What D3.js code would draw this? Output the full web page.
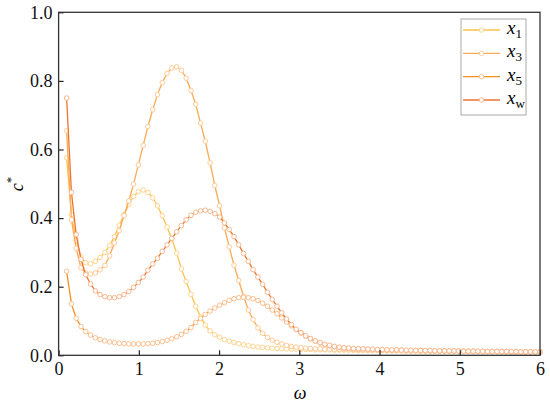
<!DOCTYPE html>
<html><head><meta charset="utf-8">
<script src="https://cdn.jsdelivr.net/npm/d3@7"></script>
<style>body{margin:0;background:#fff}svg{display:block}</style>
</head><body>
<script>
const omega = [0.100,0.160,0.219,0.279,0.338,0.398,0.458,0.517,0.577,0.636,0.696,0.756,0.815,0.875,0.934,0.994,1.054,1.113,1.173,1.232,1.292,1.352,1.411,1.471,1.530,1.590,1.650,1.709,1.769,1.828,1.888,1.947,2.007,2.067,2.126,2.186,2.245,2.305,2.365,2.424,2.484,2.543,2.603,2.663,2.722,2.782,2.841,2.901,2.961,3.020,3.080,3.139,3.199,3.259,3.318,3.378,3.437,3.497,3.557,3.616,3.676,3.735,3.795,3.855,3.914,3.974,4.034,4.093,4.153,4.212,4.272,4.332,4.391,4.451,4.510,4.570,4.630,4.689,4.749,4.808,4.868,4.928,4.987,5.047,5.106,5.166,5.226,5.285,5.345,5.404,5.464,5.524,5.583,5.643,5.702,5.762,5.822,5.881,5.941,6.000];

const x1 = [0.576,0.410,0.335,0.287,0.270,0.267,0.274,0.285,0.300,0.320,0.346,0.379,0.410,0.440,0.463,0.477,0.482,0.475,0.459,0.436,0.407,0.374,0.340,0.298,0.252,0.215,0.178,0.143,0.112,0.088,0.071,0.060,0.053,0.046,0.041,0.037,0.034,0.031,0.028,0.026,0.024,0.023,0.022,0.021,0.020,0.019,0.019,0.018,0.018,0.017,0.017,0.017,0.016,0.016,0.016,0.016,0.015,0.015,0.015,0.015,0.015,0.014,0.014,0.014,0.014,0.014,0.014,0.013,0.013,0.013,0.013,0.013,0.013,0.013,0.012,0.012,0.012,0.012,0.012,0.012,0.012,0.012,0.011,0.011,0.011,0.011,0.011,0.011,0.011,0.011,0.011,0.010,0.010,0.010,0.010,0.010,0.010,0.010,0.010,0.010];

const x3 = [0.655,0.395,0.312,0.255,0.240,0.237,0.240,0.249,0.262,0.290,0.328,0.364,0.407,0.450,0.499,0.555,0.612,0.667,0.716,0.760,0.795,0.822,0.838,0.841,0.831,0.808,0.772,0.732,0.677,0.624,0.561,0.495,0.436,0.372,0.316,0.263,0.218,0.172,0.132,0.104,0.080,0.064,0.052,0.044,0.038,0.033,0.029,0.026,0.024,0.022,0.021,0.020,0.019,0.019,0.018,0.018,0.017,0.017,0.017,0.016,0.016,0.016,0.015,0.015,0.015,0.015,0.014,0.014,0.014,0.014,0.014,0.013,0.013,0.013,0.013,0.013,0.013,0.012,0.012,0.012,0.012,0.012,0.012,0.012,0.011,0.011,0.011,0.011,0.011,0.011,0.011,0.011,0.010,0.010,0.010,0.010,0.010,0.010,0.010,0.010];

const x5 = [0.245,0.150,0.108,0.084,0.069,0.059,0.051,0.046,0.042,0.039,0.037,0.035,0.034,0.033,0.033,0.033,0.033,0.034,0.035,0.037,0.040,0.044,0.048,0.054,0.061,0.070,0.081,0.096,0.108,0.119,0.129,0.138,0.146,0.153,0.160,0.165,0.168,0.169,0.168,0.165,0.160,0.152,0.143,0.132,0.121,0.109,0.097,0.086,0.075,0.065,0.056,0.048,0.041,0.036,0.031,0.028,0.025,0.023,0.021,0.020,0.019,0.018,0.018,0.017,0.017,0.016,0.016,0.016,0.015,0.015,0.015,0.014,0.014,0.014,0.014,0.013,0.013,0.013,0.013,0.013,0.012,0.012,0.012,0.012,0.012,0.012,0.011,0.011,0.011,0.011,0.011,0.011,0.011,0.010,0.010,0.010,0.010,0.010,0.010,0.010];

const xw = [0.750,0.475,0.352,0.280,0.235,0.208,0.188,0.177,0.171,0.168,0.168,0.171,0.177,0.186,0.198,0.212,0.228,0.248,0.266,0.283,0.303,0.322,0.341,0.360,0.378,0.395,0.408,0.417,0.421,0.423,0.420,0.413,0.403,0.386,0.367,0.346,0.322,0.297,0.274,0.250,0.228,0.207,0.184,0.163,0.143,0.124,0.106,0.090,0.076,0.066,0.057,0.049,0.042,0.037,0.032,0.029,0.026,0.024,0.022,0.021,0.020,0.019,0.019,0.018,0.018,0.017,0.017,0.016,0.016,0.016,0.015,0.015,0.015,0.014,0.014,0.014,0.014,0.013,0.013,0.013,0.013,0.013,0.012,0.012,0.012,0.012,0.012,0.012,0.011,0.011,0.011,0.011,0.011,0.011,0.011,0.010,0.010,0.010,0.010,0.010];

const seriesNames = ["1","3","5","w"];
const seriesData = [x1, x3, x5, xw];
const lineColors = ["#FFC24A","#FDAA55","#F7901E","#EC7530"];
const markColors = ["#FFD690","#FFCB98","#FCC090","#F8B990"];
const xTicks = [0,1,2,3,4,5,6];
const yTicks = [0.0,0.2,0.4,0.6,0.8,1.0];

const W = 550, H = 405;
const L = 58.6, R = 540, T = 12.3, B = 355.3;
const svg = d3.select("body").append("svg").attr("width", W).attr("height", H);
const x = d3.scaleLinear().domain([0,6]).range([L,R]);
const y = d3.scaleLinear().domain([0,1]).range([B,T]);
const font = "Times New Roman, Liberation Serif, Times, serif";

// series
seriesData.forEach((s, k) => {
  const pts = omega.map((w,i) => [w, s[i]]);
  const g = svg.append("g");
  g.append("path").datum(pts)
    .attr("fill","none").attr("stroke", lineColors[k]).attr("stroke-width",1.3)
    .attr("d", d3.line().x(d=>x(d[0])).y(d=>y(d[1])));
  g.selectAll("circle").data(pts).enter().append("circle")
    .attr("cx", d=>x(d[0])).attr("cy", d=>y(d[1])).attr("r", 2.3)
    .attr("fill","#fff").attr("stroke", markColors[k]).attr("stroke-width",1);
});

// axes
const ax = svg.append("g").attr("transform",`translate(0,${B})`)
  .call(d3.axisBottom(x).tickValues(xTicks).tickFormat(d3.format("d")).tickSizeInner(-5).tickSizeOuter(0).tickPadding(7));
const ay = svg.append("g").attr("transform",`translate(${L},0)`)
  .call(d3.axisLeft(y).tickValues(yTicks).tickFormat(d3.format(".1f")).tickSizeInner(-5).tickSizeOuter(0).tickPadding(6));
[ax, ay].forEach(a => {
  a.select(".domain").remove();
  a.selectAll("line").attr("stroke","#222").attr("stroke-width",1.2);
  a.selectAll("text").style("font-family",font).attr("font-size",18).attr("fill","#111");
});
svg.append("rect").attr("x",L).attr("y",T).attr("width",R-L).attr("height",B-T)
  .attr("fill","none").attr("stroke","#333").attr("stroke-width",1.3);

// axis titles
svg.append("text").attr("x", 300).attr("y", 399).attr("text-anchor","middle")
  .style("font-family",font).attr("font-size",18).attr("font-style","italic").text("ω");
const yl = svg.append("text").attr("transform","translate(23,184) rotate(-90)")
  .attr("text-anchor","middle").style("font-family",font).attr("font-size",18).attr("font-style","italic");
yl.append("tspan").text("c");
yl.append("tspan").attr("dy",-8).attr("font-size",13).attr("font-style","normal").text("*");

// legend
const lg = svg.append("g");
lg.append("rect").attr("x",461).attr("y",19).attr("width",65).attr("height",96)
  .attr("fill","#fff").attr("stroke","#aaa").attr("stroke-width",1);
const ly = d3.scalePoint().domain(seriesNames).range([30,100]);
seriesNames.forEach((n,k) => {
  const yy = ly(n);
  lg.append("line").attr("x1",463).attr("x2",500).attr("y1",yy).attr("y2",yy)
    .attr("stroke",lineColors[k]).attr("stroke-width",1.3);
  lg.append("circle").attr("cx",481.5).attr("cy",yy).attr("r",2.3)
    .attr("fill","#fff").attr("stroke",markColors[k]).attr("stroke-width",1);
  const t = lg.append("text").attr("x",507).attr("y",yy+4).style("font-family",font).attr("font-size",19);
  t.append("tspan").attr("font-style","italic").text("x");
  t.append("tspan").attr("dy",4).attr("font-size",13).text(n);
});
</script>
</body></html>
